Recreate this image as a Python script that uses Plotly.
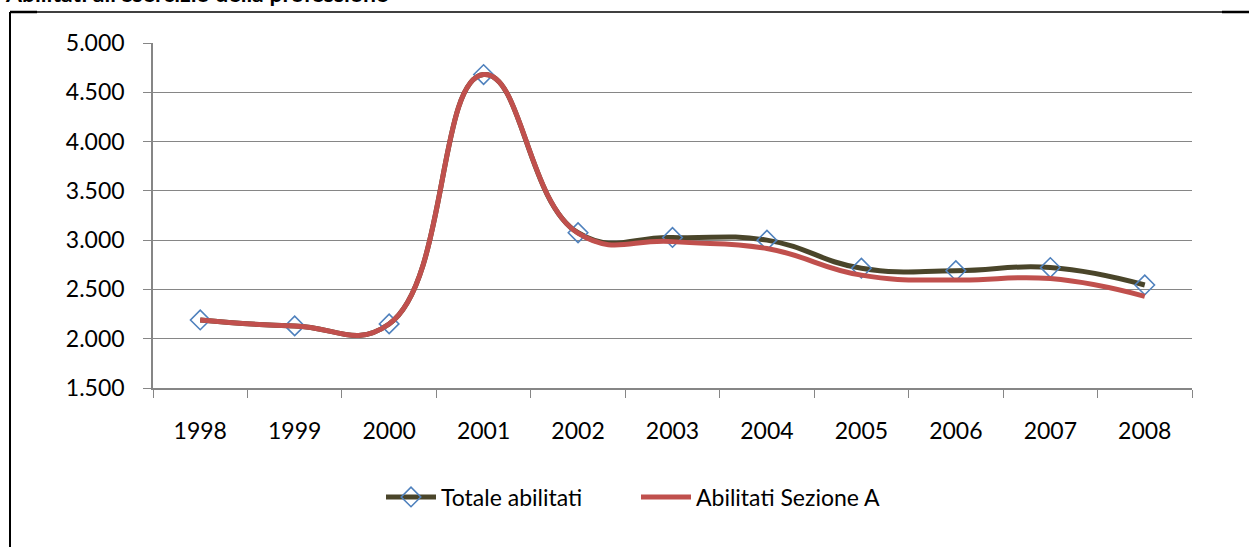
import plotly.graph_objects as go

# Abilitati all'esercizio della professione, 1998-2008
anni = ["1998", "1999", "2000", "2001", "2002", "2003", "2004", "2005", "2006", "2007", "2008"]
totale_abilitati = [2190, 2130, 2150, 4680, 3075, 3027, 3000, 2715, 2690, 2722, 2545]
abilitati_sezione_a = [2190, 2130, 2150, 4680, 3070, 2985, 2915, 2645, 2595, 2610, 2430]
y_ticks = [1500, 2000, 2500, 3000, 3500, 4000, 4500, 5000]

W, H = 1249, 547
ML, MR, MT, MB = 153, 57, 43, 159
PW, PH = W - ML - MR, H - MT - MB


def px(x):
    return (x - ML) / PW


def py(y):
    return (H - MB - y) / PH


FONT = "Lato"
GRID = "#868686"

fig = go.Figure()
fig.add_trace(go.Scatter(
    x=anni, y=totale_abilitati, name="Totale abilitati",
    mode="lines+markers", line=dict(color="#4A452A", width=5, shape="spline", smoothing=1.3),
    marker=dict(symbol="diamond-open", size=15, color="#4F81BD", line=dict(width=1.6, color="#4F81BD")),
))
fig.add_trace(go.Scatter(
    x=anni, y=abilitati_sezione_a, name="Abilitati Sezione A",
    mode="lines", line=dict(color="#C0504D", width=5, shape="spline", smoothing=1.3),
))

shapes = [
    dict(type="line", xref="paper", yref="paper", x0=px(10), x1=px(10), y0=py(12), y1=py(560),
         line=dict(color="black", width=2)),
    dict(type="line", xref="paper", yref="paper", x0=px(10), x1=px(1260), y0=py(12), y1=py(12),
         line=dict(color="black", width=1.5)),
    dict(type="line", xref="paper", yref="paper", x0=px(10), x1=px(37), y0=py(12), y1=py(12),
         line=dict(color="black", width=2.5)),
    dict(type="line", xref="paper", yref="paper", x0=px(1222), x1=px(1260), y0=py(12), y1=py(12),
         line=dict(color="black", width=2.5)),
]

fig.update_layout(
    width=W, height=H, autosize=False,
    margin=dict(l=ML, r=MR, t=MT, b=MB),
    paper_bgcolor="white", plot_bgcolor="white",
    separators=",.",
    font=dict(family=FONT, size=23, color="black"),
    showlegend=True,
    legend=dict(orientation="h", x=px(636), xanchor="center", y=py(497), yanchor="middle",
                font=dict(family=FONT, size=23, color="black"), itemwidth=50,
                entrywidth=190, entrywidthmode="pixels",
                traceorder="normal", bgcolor="rgba(0,0,0,0)"),
    shapes=shapes,
    annotations=[dict(text="<b>Abilitati all'esercizio della professione</b>", xref="paper", yref="paper",
                      x=px(3), y=py(9), xanchor="left", yanchor="bottom", showarrow=False,
                      font=dict(family=FONT, size=23, color="black"))],
    xaxis=dict(type="category", tickson="boundaries", ticks="outside", ticklen=8, tickcolor=GRID,
               showline=True, linecolor=GRID, linewidth=1.5, showgrid=False,
               ticklabelstandoff=22, tickfont=dict(family=FONT, size=23),
               range=[-0.5, 10.5]),
    yaxis=dict(range=[1500, 5000], tickvals=y_ticks, tickformat=",d", ticks="outside", ticklen=8,
               tickcolor=GRID, showline=True, linecolor=GRID, linewidth=1.5,
               showgrid=True, gridcolor=GRID, gridwidth=1.3, zeroline=False,
               ticklabelstandoff=14, tickfont=dict(family=FONT, size=23)),
)

fig.write_html("out.html")
